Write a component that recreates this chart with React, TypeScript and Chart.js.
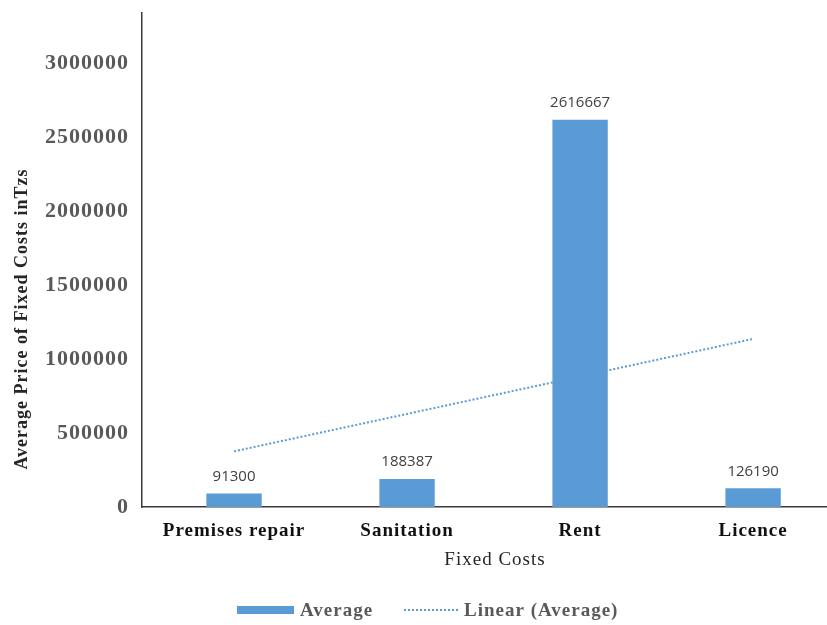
import { useEffect, useRef } from "react";
import { Chart, registerables } from "chart.js";

Chart.register(...registerables);

const categories = ["Premises repair", "Sanitation", "Rent", "Licence"];
const averageValues = [91300, 188387, 2616667, 126190];
const linearTrendValues = [376000, 629000, 882000, 1136000];
const yTickValues = [0, 500000, 1000000, 1500000, 2000000, 2500000, 3000000];
const seriesNames = ["Average", "Linear (Average)"];
const xAxisTitle = "Fixed Costs";
const yAxisTitle = "Average Price of Fixed Costs inTzs";

const BLUE = "#5B9BD5";
const SERIF = "'Liberation Serif', 'Times New Roman', serif";

const decorPlugin = {
  id: "decor",
  beforeLayout(chart: any) {
    chart.ctx.letterSpacing = "1px";
  },
  beforeDraw(chart: any) {
    chart.ctx.letterSpacing = "1px";
  },
  afterDatasetsDraw(chart: any) {
    const ctx = chart.ctx;
    const meta = chart.getDatasetMeta(0);
    ctx.save();
    ctx.letterSpacing = "0px";
    ctx.font = "15px 'Open Sans', sans-serif";
    ctx.fillStyle = "#404040";
    ctx.textAlign = "center";
    ctx.textBaseline = "middle";
    meta.data.forEach((bar: any, i: number) => {
      ctx.fillText(String(averageValues[i]), bar.x, bar.y - 17);
    });
    ctx.restore();
  },
  afterDraw(chart: any) {
    const ctx = chart.ctx;
    ctx.save();
    ctx.letterSpacing = "1px";
    // y axis title
    ctx.save();
    ctx.translate(22, 319);
    ctx.rotate(-Math.PI / 2);
    ctx.font = `bold 18px ${SERIF}`;
    ctx.fillStyle = "#262626";
    ctx.textAlign = "center";
    ctx.textBaseline = "middle";
    ctx.fillText(yAxisTitle, 0, 0);
    ctx.restore();
    // x axis title
    ctx.font = `19px ${SERIF}`;
    ctx.fillStyle = "#262626";
    ctx.textAlign = "center";
    ctx.textBaseline = "middle";
    ctx.fillText(xAxisTitle, 495, 560);
    // legend
    const ds = chart.data.datasets;
    ctx.fillStyle = BLUE;
    ctx.fillRect(237, 606, 57, 8);
    ctx.font = `bold 19px ${SERIF}`;
    ctx.fillStyle = "#595959";
    ctx.textAlign = "left";
    ctx.fillText(ds[0].label, 300, 611);
    ctx.beginPath();
    ctx.setLineDash([2, 2]);
    ctx.lineWidth = 2;
    ctx.strokeStyle = BLUE;
    ctx.moveTo(404, 610);
    ctx.lineTo(458, 610);
    ctx.stroke();
    ctx.setLineDash([]);
    ctx.fillText(ds[1].label, 464, 611);
    ctx.restore();
  },
};

export default function App() {
  const canvasRef = useRef<HTMLCanvasElement | null>(null);

  useEffect(() => {
    if (!canvasRef.current) return;
    const chart = new Chart(canvasRef.current, {
      type: "bar",
      data: {
        datasets: [
          {
            type: "bar",
            label: seriesNames[0],
            data: categories.map((_, i) => ({ x: i + 1, y: averageValues[i] })),
            backgroundColor: BLUE,
            borderWidth: 0,
            categoryPercentage: 1,
            barPercentage: 0.32,
            order: 1,
          } as any,
          {
            type: "line",
            label: seriesNames[1],
            data: categories.map((_, i) => ({ x: i + 1, y: linearTrendValues[i] })),
            borderColor: BLUE,
            borderWidth: 2,
            borderDash: [2, 2],
            pointRadius: 0,
            fill: false,
            tension: 0,
            order: 2,
          } as any,
        ],
      },
      options: {
        animation: false,
        responsive: true,
        maintainAspectRatio: false,
        layout: { padding: { top: 13, left: 0, right: 0, bottom: 58 } },
        plugins: {
          legend: { display: false },
          tooltip: { enabled: false },
          title: { display: false },
        },
        scales: {
          x: {
            type: "linear",
            min: 0.468,
            max: 4.56,
            offset: false,
            grid: { display: false, drawTicks: false, offset: false },
            border: { display: true, color: "#3a3a3a", width: 1.5 },
            ticks: {
              padding: 13,
              color: "#111111",
              font: { family: SERIF, size: 19, weight: "bold" },
              maxRotation: 0,
              autoSkip: false,
              callback: (v: any) => categories[Math.round(Number(v)) - 1] ?? "",
            },
            afterBuildTicks: (s: any) => {
              s.ticks = categories.map((_, i) => ({ value: i + 1 }));
            },
            afterFit: (s: any) => {
              s.height = 60;
              s.paddingLeft = 0;
              s.paddingRight = 0;
            },
          } as any,
          y: {
            min: 0,
            max: 3338000,
            grid: { display: false, drawTicks: false },
            border: { display: true, color: "#3a3a3a", width: 1.5 },
            ticks: {
              padding: 13,
              color: "#595959",
              font: { family: SERIF, size: 22, weight: "bold" },
              callback: (v: any) => String(v),
            },
            afterBuildTicks: (s: any) => {
              s.ticks = yTickValues.map((v) => ({ value: v }));
            },
            afterFit: (s: any) => {
              s.width = 142;
              s.paddingTop = 0;
              s.paddingBottom = 0;
            },
          } as any,
        },
      },
      plugins: [decorPlugin as any],
    });
    return () => chart.destroy();
  }, []);

  return (
    <div
      style={{
        position: "fixed",
        left: 0,
        top: 0,
        width: 827,
        height: 625,
        overflow: "hidden",
        background: "#ffffff",
      }}
    >
      <div style={{ position: "relative", width: 850, height: 625 }}>
        <canvas ref={canvasRef} />
      </div>
    </div>
  );
}
